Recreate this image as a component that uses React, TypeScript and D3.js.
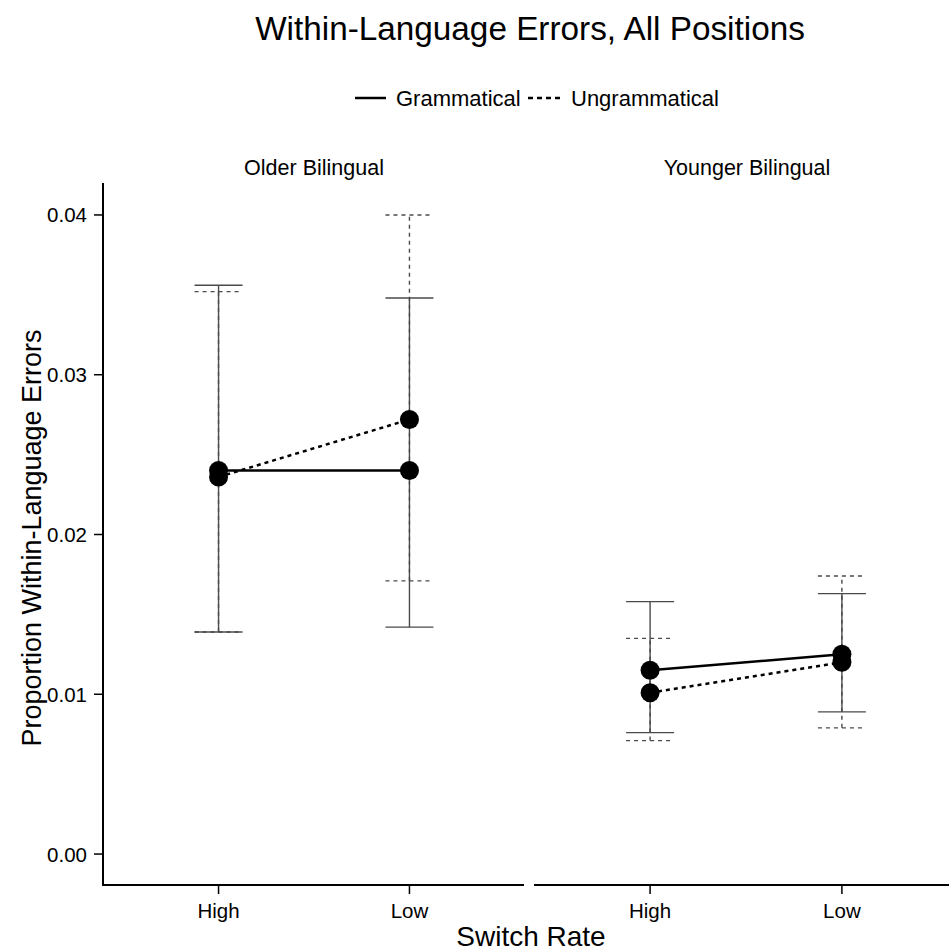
import React from "react";
import * as d3 from "d3";

// Facets, x categories and the two sentence types
const groups = ["Older Bilingual", "Younger Bilingual"];
const rates = ["High", "Low"];
const conditions = ["Grammatical", "Ungrammatical"];

// Means and error-bar limits, indexed [group][rate]
const gramMean = [[0.0240, 0.0240], [0.0115, 0.0125]];
const gramLower = [[0.0139, 0.0142], [0.0076, 0.0089]];
const gramUpper = [[0.0356, 0.0348], [0.0158, 0.0163]];

const ungramMean = [[0.0236, 0.0272], [0.0101, 0.0120]];
const ungramLower = [[0.0139, 0.0171], [0.0071, 0.0079]];
const ungramUpper = [[0.0352, 0.0400], [0.0135, 0.0174]];

const yTicks = [0, 0.01, 0.02, 0.03, 0.04];

const W = 949;
const H = 952;
const FONT = "'Liberation Sans', Arial, Helvetica, sans-serif";

const panelTop = 183;
const panelBottom = 886;
const panels = [
  { x0: 104, x1: 524 },
  { x0: 535, x1: 957 },
];

const y = d3.scaleLinear().domain([-0.002, 0.042]).range([panelBottom, panelTop]);

const series = [
  { name: conditions[0], mean: gramMean, lo: gramLower, hi: gramUpper, dash: null as string | null },
  { name: conditions[1], mean: ungramMean, lo: ungramLower, hi: ungramUpper, dash: "4,4" },
];

export default function App() {
  const xScales = panels.map((p) =>
    d3.scalePoint<string>().domain(rates).range([p.x0, p.x1]).padding(0.6)
  );
  const line = (xs: d3.ScalePoint<string>, vals: number[]) =>
    d3.line<number>()
      .x((_, i) => xs(rates[i]) as number)
      .y((v) => y(v))(vals) as string;

  return (
    <svg width={W} height={H} style={{ position: "absolute", left: 0, top: 0 }} fontFamily={FONT}>
      <rect width={W} height={H} fill="#fff" />
      <text x={530} y={40} textAnchor="middle" fontSize={33.3} fill="#000">
        Within-Language Errors, All Positions
      </text>

      {/* legend */}
      <g>
        <line x1={355} x2={386} y1={98} y2={98} stroke="#000" strokeWidth={2.5} />
        <text x={396} y={106} fontSize={22}>{conditions[0]}</text>
        <line x1={528} x2={561} y1={98} y2={98} stroke="#000" strokeWidth={2.5} strokeDasharray="5,4" />
        <text x={571} y={106} fontSize={22}>{conditions[1]}</text>
      </g>

      {panels.map((p, gi) => {
        const xs = xScales[gi];
        return (
          <g key={groups[gi]}>
            <text x={(p.x0 + Math.min(p.x1, W)) / 2 + (gi === 1 ? 5 : 0)} y={175} textAnchor="middle" fontSize={21.5}>
              {groups[gi]}
            </text>
            {/* x axis */}
            <line x1={p.x0 - 1} x2={p.x1} y1={panelBottom - 1} y2={panelBottom - 1} stroke="#000" strokeWidth={2} />
            {rates.map((r) => (
              <g key={r}>
                <line x1={xs(r)} x2={xs(r)} y1={panelBottom} y2={panelBottom + 8} stroke="#000" strokeWidth={1.5} />
                <text x={xs(r)} y={918} textAnchor="middle" fontSize={20.5}>{r}</text>
              </g>
            ))}

            {/* error bars */}
            {series.map((s) =>
              rates.map((r, ri) => {
                const cx = xs(r) as number;
                const yl = y(s.lo[gi][ri]);
                const yh = y(s.hi[gi][ri]);
                return (
                  <g key={s.name + r} stroke="#4a4a4a" strokeWidth={1.4} strokeDasharray={s.dash ?? undefined} fill="none">
                    <line x1={cx} x2={cx} y1={yl} y2={yh} />
                    <line x1={cx - 24} x2={cx + 24} y1={yl} y2={yl} />
                    <line x1={cx - 24} x2={cx + 24} y1={yh} y2={yh} />
                  </g>
                );
              })
            )}

            {/* connecting lines */}
            {series.map((s) => (
              <path key={s.name} d={line(xs, s.mean[gi])} fill="none" stroke="#000" strokeWidth={2.5}
                strokeDasharray={s.dash ?? undefined} />
            ))}

            {/* points */}
            {series.map((s) =>
              rates.map((r, ri) => (
                <circle key={s.name + r} cx={xs(r)} cy={y(s.mean[gi][ri])} r={9.5} fill="#000" />
              ))
            )}
          </g>
        );
      })}

      {/* y axis */}
      <line x1={103} x2={103} y1={panelTop} y2={panelBottom} stroke="#000" strokeWidth={2} />
      {yTicks.map((t) => (
        <g key={t}>
          <line x1={94} x2={103} y1={y(t)} y2={y(t)} stroke="#000" strokeWidth={1.5} />
          <text x={87} y={y(t) + 7.5} textAnchor="end" fontSize={20.5}>{d3.format(".2f")(t)}</text>
        </g>
      ))}

      <text x={531} y={946} textAnchor="middle" fontSize={28}>Switch Rate</text>
      <text transform={`translate(41,${538}) rotate(-90)`} textAnchor="middle" fontSize={27}>
        Proportion Within-Language Errors
      </text>
    </svg>
  );
}
